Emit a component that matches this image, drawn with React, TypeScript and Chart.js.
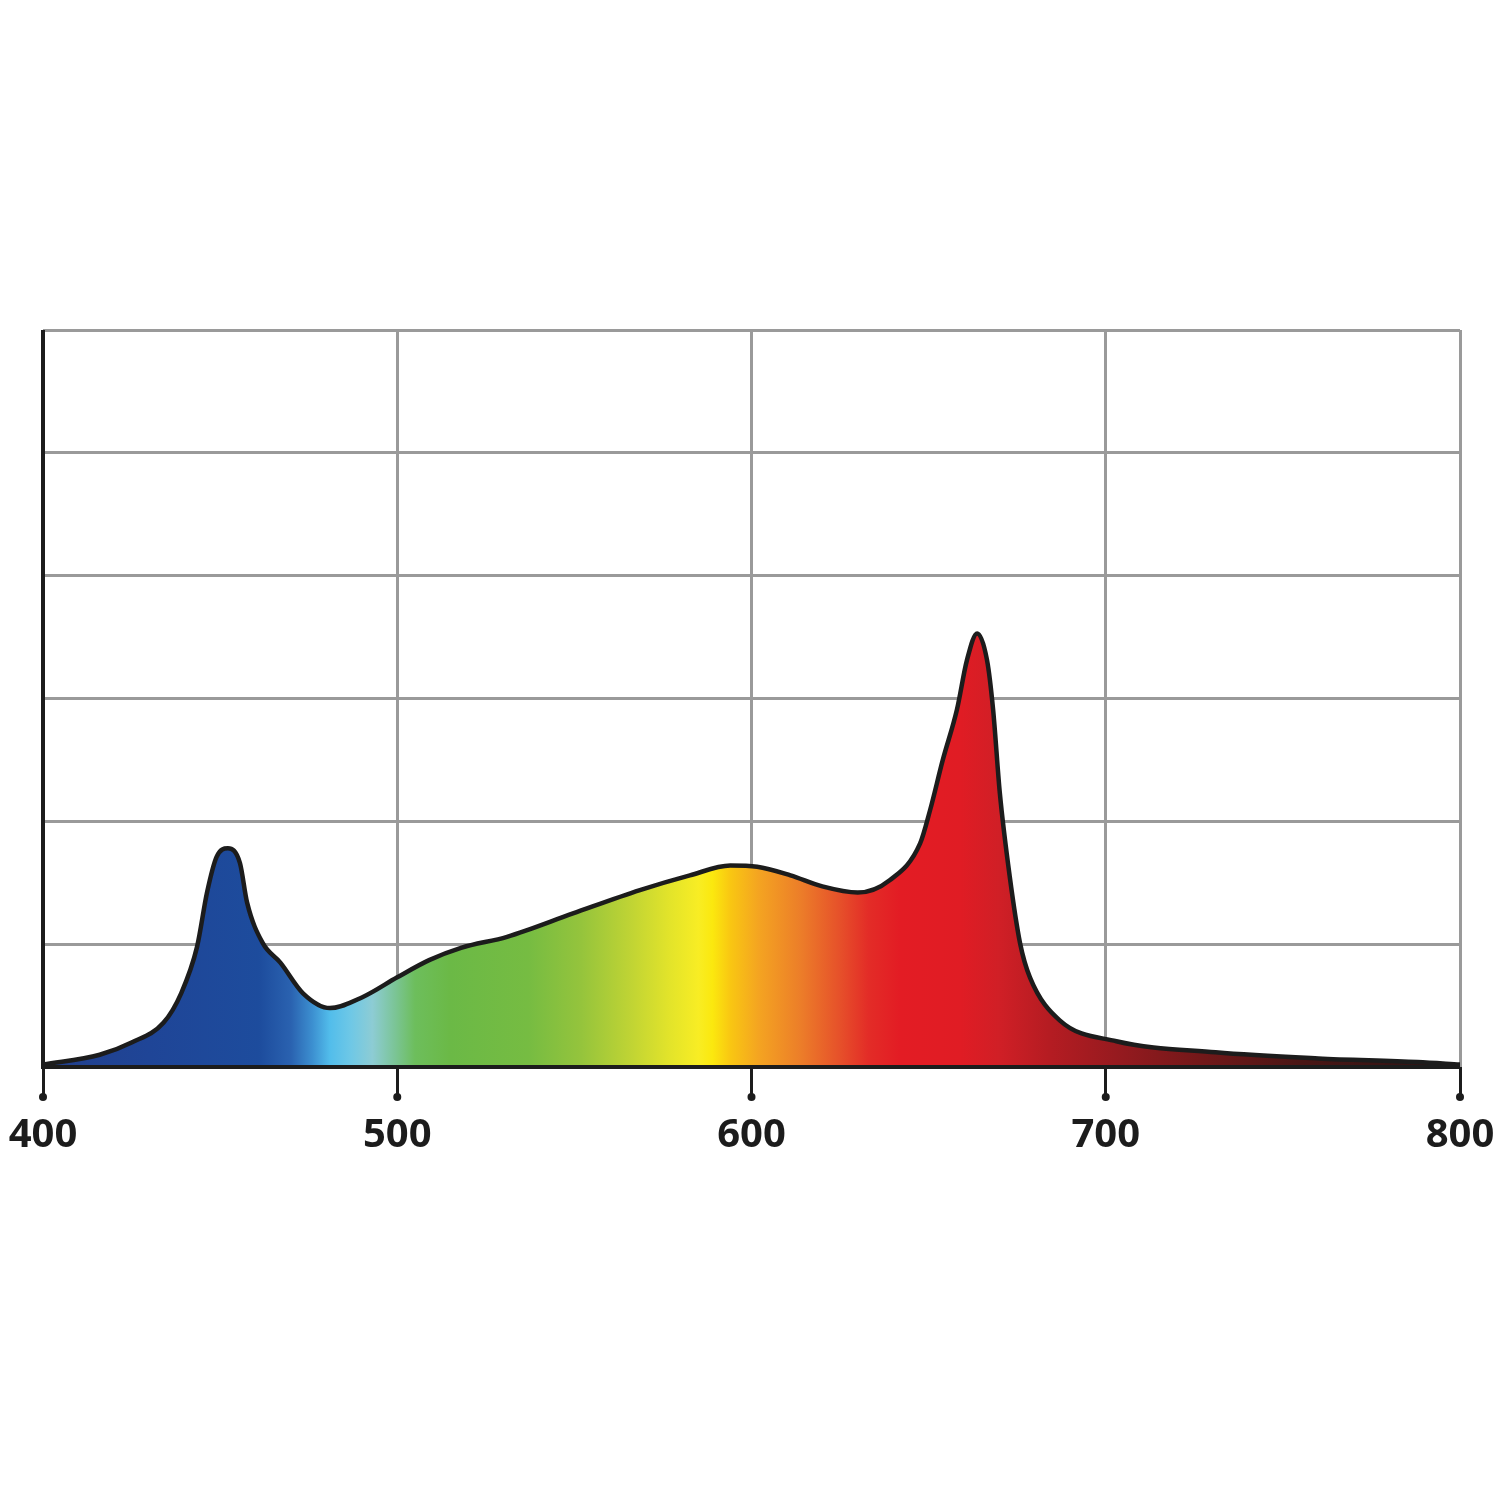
import React, { useEffect, useRef } from "react";
import { Chart, registerables } from "chart.js";

Chart.register(...registerables);

// wavelength (nm) and relative intensity
const wavelengths = [
  400, 416, 425, 434, 439, 443.5, 446.3, 449, 452.2, 455.6, 457.6, 462, 467,
  473.4, 481, 490.3, 500, 509, 518, 531, 549.6, 568.5, 582.6, 594, 601.6, 611,
  620, 630, 639, 647.6, 650.4, 654, 658, 660.8, 663.7, 666.5, 668.2, 670.1,
  672.9, 675.8, 678.6, 687, 703, 731, 760, 788, 800,
];
const intensity = [
  0.02, 0.1, 0.2, 0.36, 0.6, 0.98, 1.42, 1.71, 1.78, 1.66, 1.34, 1.01, 0.85,
  0.6, 0.48, 0.57, 0.73, 0.87, 0.97, 1.06, 1.25, 1.44, 1.56, 1.64, 1.63, 1.56,
  1.47, 1.42, 1.52, 1.82, 2.09, 2.5, 2.91, 3.31, 3.53, 3.31, 2.91, 2.23, 1.55,
  1.01, 0.73, 0.38, 0.21, 0.12, 0.07, 0.04, 0.02,
];
const xTicks = [400, 500, 600, 700, 800];

// spectrum colours along the x axis
const stopNm = [
  400, 430, 461, 470, 476, 481, 487, 493, 499, 505, 515, 537, 552, 566, 577,
  585, 589, 594, 602, 614, 625, 633, 642, 659, 670, 684, 704, 727, 755, 800,
];
const stopColors = [
  "#223f8c", "#1f4597", "#1d4c9d", "#2a62b0", "#3c8fd0", "#52bdeb", "#6fc8e6",
  "#8dccd4", "#7cc59a", "#6dbe5c", "#6bb946", "#76bc42", "#95c43c", "#c0d434",
  "#e3e42a", "#f8ed24", "#fbe80e", "#f9c712", "#f4a421", "#ec7d29", "#e6502a",
  "#e32c27", "#e31c24", "#e01c24", "#d01f26", "#b51c22", "#951a1f", "#721819",
  "#4a1615", "#2a1414",
];

const frame = {
  id: "frame",
  afterDatasetsDraw(chart) {
    const { ctx, chartArea, scales } = chart;
    ctx.save();
    ctx.strokeStyle = "#1c1c1c";
    ctx.lineWidth = 4;
    ctx.beginPath();
    ctx.moveTo(chartArea.left, chartArea.top);
    ctx.lineTo(chartArea.left, chartArea.bottom);
    ctx.lineTo(chartArea.right, chartArea.bottom);
    ctx.stroke();
    ctx.fillStyle = "#1c1c1c";
    xTicks.forEach((t) => {
      const x = scales.x.getPixelForValue(t);
      ctx.beginPath();
      ctx.arc(x, chartArea.bottom + 30, 4, 0, Math.PI * 2);
      ctx.fill();
    });
    ctx.restore();
  },
};

const App = () => {
  const canvasRef = useRef(null);
  const chartRef = useRef(null);

  useEffect(() => {
    if (!canvasRef.current) return;
    if (chartRef.current) chartRef.current.destroy();

    chartRef.current = new Chart(canvasRef.current, {
      type: "line",
      data: {
        datasets: [
          {
            data: wavelengths.map((w, i) => ({ x: w, y: intensity[i] })),
            borderColor: "#1c1c1c",
            borderWidth: 4.5,
            pointRadius: 0,
            fill: "origin",
            cubicInterpolationMode: "monotone",
            backgroundColor: (c) => {
              const { chart } = c;
              const { chartArea, scales } = chart;
              if (!chartArea) return "#e31c24";
              const g = chart.ctx.createLinearGradient(
                chartArea.left,
                0,
                chartArea.right,
                0
              );
              const w = chartArea.right - chartArea.left;
              stopNm.forEach((nm, i) => {
                const p = (scales.x.getPixelForValue(nm) - chartArea.left) / w;
                g.addColorStop(Math.min(1, Math.max(0, p)), stopColors[i]);
              });
              return g;
            },
          },
        ],
      },
      options: {
        responsive: false,
        animation: false,
        layout: { padding: { left: 43, right: 40, top: 330, bottom: 0 } },
        scales: {
          x: {
            type: "linear",
            min: 400,
            max: 800,
            afterFit: (s) => {
              s.height = 433;
              s.paddingLeft = 0;
              s.paddingRight = 0;
            },
            afterBuildTicks: (s) => {
              s.ticks = xTicks.map((v) => ({ value: v }));
            },
            border: { display: false },
            grid: {
              color: "#9a9a9a",
              lineWidth: 3,
              drawTicks: true,
              tickLength: 30,
              tickColor: "#1c1c1c",
              tickWidth: 3,
            },
            ticks: {
              color: "#1c1c1c",
              padding: 15,
              maxRotation: 0,
              font: { family: "'Open Sans'", size: 40, weight: "bold" },
            },
          },
          y: {
            min: 0,
            max: 6,
            afterFit: (s) => {
              s.width = 0;
            },
            border: { display: false },
            grid: { color: "#9a9a9a", lineWidth: 3, drawTicks: false },
            ticks: { display: false, stepSize: 1 },
          },
        },
        plugins: {
          legend: { display: false },
          tooltip: { enabled: false },
        },
      },
      plugins: [frame],
    });

    return () => {
      if (chartRef.current) chartRef.current.destroy();
    };
  }, []);

  return (
    <div style={{ position: "absolute", left: 0, top: 0, width: 1500, height: 1500, background: "#fff" }}>
      <canvas ref={canvasRef} width={1500} height={1500} />
    </div>
  );
};

export default App;
